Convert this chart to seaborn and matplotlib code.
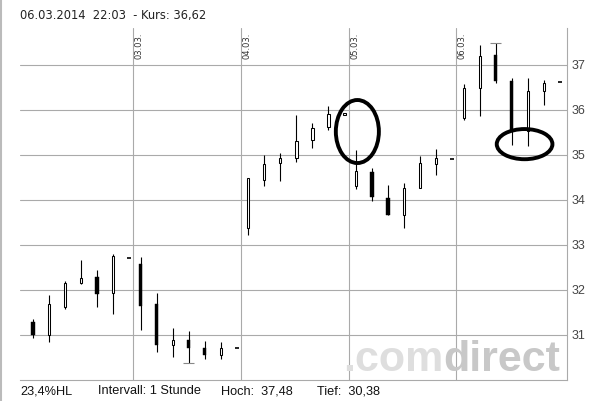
import matplotlib
matplotlib.use("Agg")
import matplotlib.pyplot as plt
from matplotlib.patches import Ellipse
import numpy as np
import seaborn as sns

# === Data (hourly candles, 7 slots per trading day) ===
day_labels = ["28.02.", "03.03.", "04.03.", "05.03.", "06.03."]
slot_index = [0, 1, 2, 3, 4, 5, 6]

opens = [31.28, 31.01, 31.63, 32.16, 32.28, 31.94, 32.70,
         32.58, 31.68, 30.77, 30.89, 30.71, 30.55, 30.71,
         33.38, 34.44, 34.82, 34.93, 35.33, 35.62, 35.88,
         34.30, 34.62, 34.04, 33.67, 34.26, 34.79, 34.91,
         35.82, 36.48, 37.22, 36.64, 35.54, 36.43, 36.62]
highs = [31.36, 31.88, 32.20, 32.67, 32.44, 32.80, 32.70,
         32.73, 31.93, 31.16, 31.09, 30.86, 30.84, 30.71,
         34.48, 35.00, 35.04, 35.89, 35.70, 36.09, 35.93,
         35.11, 34.70, 34.33, 34.38, 34.98, 35.13, 34.91,
         36.58, 37.44, 37.48, 36.72, 36.72, 36.67, 36.62]
lows = [30.94, 30.85, 31.58, 32.14, 31.63, 31.47, 32.70,
        31.12, 30.63, 30.52, 30.38, 30.47, 30.47, 30.71,
        33.22, 34.32, 34.43, 34.85, 35.16, 35.56, 35.88,
        34.24, 33.98, 33.67, 33.38, 34.26, 34.56, 34.91,
        35.78, 35.87, 36.59, 35.21, 35.19, 36.12, 36.62]
closes = [31.00, 31.68, 32.15, 32.26, 31.92, 32.76, 32.70,
          31.64, 30.78, 30.89, 30.70, 30.55, 30.72, 30.71,
          34.48, 34.79, 34.93, 35.30, 35.59, 35.90, 35.93,
          34.64, 34.07, 33.67, 34.26, 34.82, 34.93, 34.91,
          36.48, 37.19, 36.65, 35.54, 36.42, 36.59, 36.62]

y_ticks = [31, 32, 33, 34, 35, 36, 37]
header = "06.03.2014  22:03  - Kurs: 36,62"
footer = ["23,4%HL", "Intervall: 1 Stunde", "Hoch:  37,48", "Tief:  30,38"]

# === Positions ===
day_width = 6.73
n_days = len(day_labels)
x = np.array([d * day_width + s for d in range(n_days) for s in slot_index])
o, h, l, c = map(np.array, (opens, highs, lows, closes))

sns.set_style("white")
grid_col = "#aaaaaa"

fig = plt.figure(figsize=(6.14, 4.01), dpi=100)
ax = fig.add_axes([20 / 614, 21 / 401, 547 / 614, 352 / 401])
ax.set_xlim(-0.81, 33.37)
ax.set_ylim(30.0, 37.82)

# === Grid and day separators ===
ax.set_yticks(y_ticks)
for t in y_ticks:
    ax.axhline(t, color=grid_col, lw=0.8, zorder=0)
for d in range(1, n_days):
    xl = d * day_width - 0.47
    ax.axvline(xl, color=grid_col, lw=0.8, zorder=0)
    ax.text(xl + 0.1, 0.988, day_labels[d], rotation=90, ha="left", va="top",
            transform=ax.get_xaxis_transform(), fontsize=6,
            family="DejaVu Sans", color="#333333")

# === Candles ===
ax.vlines(x, l, h, color="black", lw=0.8, zorder=2)
up = c > o
down = c < o
flat = c == o
ax.bar(x[up], (c - o)[up], bottom=o[up], width=0.14, color="white",
       edgecolor="black", linewidth=0.75, zorder=3)
ax.bar(x[down], (c - o)[down], bottom=o[down], width=0.2, color="black",
       edgecolor="black", linewidth=0.3, zorder=3)
ax.hlines(c[flat], x[flat] - 0.13, x[flat] + 0.13, color="black", lw=1.2, zorder=3)

# high / low markers
i_hi = int(np.argmax(h))
i_lo = int(np.argmin(l))
ax.hlines([h[i_hi], l[i_lo]], [x[i_hi] - 0.35, x[i_lo] - 0.35],
          [x[i_hi] + 0.35, x[i_lo] + 0.35], color="#888888", lw=0.8, zorder=2)

# === Hand-drawn circles ===
ax.add_patch(Ellipse((20.27, 35.52), 2.69, 1.40, fill=False, lw=2.8,
                     color="black", zorder=4))
ax.add_patch(Ellipse((30.72, 35.24), 3.48, 0.67, fill=False, lw=2.8,
                     color="black", zorder=4))

# === Axes styling ===
for side in ["left", "top"]:
    ax.spines[side].set_visible(False)
for side in ["bottom", "right"]:
    ax.spines[side].set_color(grid_col)
    ax.spines[side].set_linewidth(0.8)
ax.set_xticks([])
ax.yaxis.tick_right()
ax.tick_params(axis="y", length=0, pad=3.5, labelsize=9, labelcolor="#444444")
for lab in ax.get_yticklabels():
    lab.set_family("Liberation Sans")
ax.set_facecolor("white")

# === Watermark ===
wm_font = ["Liberation Sans Narrow", "Liberation Sans"]
fig.text(443 / 614, 30 / 401, ".com", ha="right", va="baseline", fontsize=31,
         family=wm_font, weight="bold", color="#dedede", zorder=1)
fig.text(443 / 614, 30 / 401, "direct", ha="left", va="baseline", fontsize=31,
         family=wm_font, weight="bold", color="#c8c8c8", zorder=1)

# === Header / footer ===
fig.text(20 / 614, 385 / 401, header, ha="left", va="center", fontsize=8.3,
         family="DejaVu Sans", color="#222222")
footer_x = [20, 98, 221, 317]
for fx, txt in zip(footer_x, footer):
    fig.text(fx / 614, 10 / 401, txt, ha="left", va="center", fontsize=9.2,
             family="Liberation Sans", color="#111111")

# left border line
fig.add_artist(plt.Line2D([1.5 / 614, 1.5 / 614], [0, 1], color="#bbbbbb", lw=1.5))

plt.savefig("out.png", dpi=100)
